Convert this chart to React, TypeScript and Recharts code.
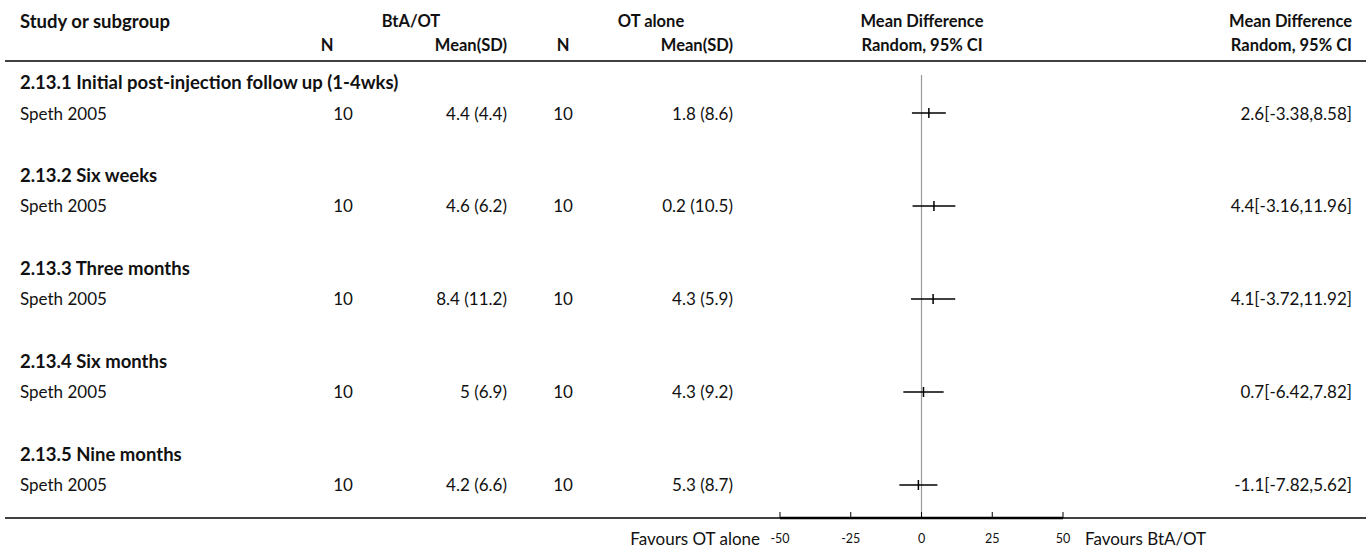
import { ComposedChart, Scatter, ErrorBar, XAxis, YAxis, ReferenceLine } from 'recharts';

const subgroups = [
  '2.13.1 Initial post-injection follow up (1-4wks)',
  '2.13.2 Six weeks',
  '2.13.3 Three months',
  '2.13.4 Six months',
  '2.13.5 Nine months',
];
const studyNames = ['Speth 2005', 'Speth 2005', 'Speth 2005', 'Speth 2005', 'Speth 2005'];
const btaN = [10, 10, 10, 10, 10];
const btaMean = [4.4, 4.6, 8.4, 5, 4.2];
const btaSd = [4.4, 6.2, 11.2, 6.9, 6.6];
const otN = [10, 10, 10, 10, 10];
const otMean = [1.8, 0.2, 4.3, 4.3, 5.3];
const otSd = [8.6, 10.5, 5.9, 9.2, 8.7];
const meanDiff = [2.6, 4.4, 4.1, 0.7, -1.1];
const ciLow = [-3.38, -3.16, -3.72, -6.42, -7.82];
const ciHigh = [8.58, 11.96, 11.92, 7.82, 5.62];
const axisTicks = [-50, -25, 0, 25, 50];

const FONT = 'Lato, "Noto Sans", sans-serif';
const INK = '#111';

const studies = studyNames.map((name, i) => ({
  row: i * 3 + 1,
  md: meanDiff[i],
  err: [meanDiff[i] - ciLow[i], ciHigh[i] - meanDiff[i]],
}));

const textRows = [
  ...subgroups.map((label, i) => ({ row: i * 3, md: 0, kind: 'group', i, label })),
  ...studyNames.map((label, i) => ({ row: i * 3 + 1, md: 0, kind: 'study', i, label })),
];

const StudyMark = (props: any) => {
  const { cx, cy } = props;
  return <line x1={cx} x2={cx} y1={cy - 5} y2={cy + 5} stroke="#000" strokeWidth={1.5} />;
};

const RowText = (props: any) => {
  const { cy, payload } = props;
  const common = { y: cy, dominantBaseline: 'central' as const, fontFamily: FONT, fontSize: 17, fill: INK };
  if (payload.kind === 'group') {
    return (
      <text {...common} x={20} fontSize={18.5} fontWeight="bold">
        {payload.label}
      </text>
    );
  }
  const i = payload.i;
  return (
    <g>
      <text {...common} x={20}>{payload.label}</text>
      <text {...common} x={343} textAnchor="middle">{btaN[i]}</text>
      <text {...common} x={507} textAnchor="end">{`${btaMean[i]} (${btaSd[i]})`}</text>
      <text {...common} x={563} textAnchor="middle">{otN[i]}</text>
      <text {...common} x={733} textAnchor="end">{`${otMean[i]} (${otSd[i]})`}</text>
      <text {...common} x={1352} textAnchor="end">{`${meanDiff[i]}[${ciLow[i]},${ciHigh[i]}]`}</text>
    </g>
  );
};

const AxisTick = (props: any) => {
  const { x, y, payload } = props;
  return (
    <g>
      <line x1={x} x2={x} y1={y - 6} y2={y} stroke="#000" strokeWidth={1} />
      <text x={x} y={y + 20} textAnchor="middle" dominantBaseline="central" fontFamily={FONT} fontSize={12.5} fill={INK}>
        {payload.value}
      </text>
    </g>
  );
};

export default function App() {
  const head = { fontFamily: FONT, fontSize: 16.5, fontWeight: 'bold' as const, fill: INK, dominantBaseline: 'central' as const };
  return (
    <div style={{ position: 'absolute', left: 0, top: 0, width: 1370, height: 549, background: '#fff' }}>
      <ComposedChart width={1370} height={549} margin={{ top: 75, right: 307, bottom: 6, left: 780 }}>
        <XAxis
          type="number"
          dataKey="md"
          domain={[-50, 50]}
          ticks={axisTicks}
          height={25}
          tickLine={false}
          tickSize={0}
          tickMargin={0}
          axisLine={{ stroke: '#000', strokeWidth: 2.5 }}
          tick={<AxisTick />}
        />
        <YAxis type="number" dataKey="row" domain={[-0.226, 14.065]} reversed hide />
        <ReferenceLine x={0} stroke="#999" strokeWidth={1.2} />
        <Scatter data={textRows} shape={<RowText />} isAnimationActive={false} />
        <Scatter data={studies} shape={<StudyMark />} isAnimationActive={false}>
          <ErrorBar dataKey="err" direction="x" width={0} stroke="#000" strokeWidth={1.5} />
        </Scatter>
      </ComposedChart>
      <svg width={1370} height={549} style={{ position: 'absolute', left: 0, top: 0, pointerEvents: 'none' }}>
        <text {...head} fontSize={18.5} x={20} y={21}>Study or subgroup</text>
        <text {...head} x={411} y={21} textAnchor="middle">BtA/OT</text>
        <text {...head} x={651} y={21} textAnchor="middle">OT alone</text>
        <text {...head} x={922} y={21} textAnchor="middle">Mean Difference</text>
        <text {...head} x={1352} y={21} textAnchor="end">Mean Difference</text>
        <text {...head} x={327} y={45} textAnchor="middle">N</text>
        <text {...head} x={507} y={45} textAnchor="end">Mean(SD)</text>
        <text {...head} x={563} y={45} textAnchor="middle">N</text>
        <text {...head} x={733} y={45} textAnchor="end">Mean(SD)</text>
        <text {...head} x={922} y={45} textAnchor="middle">Random, 95% CI</text>
        <text {...head} x={1352} y={45} textAnchor="end">Random, 95% CI</text>
        <line x1={5} x2={1366} y1={61} y2={61} stroke="#000" strokeWidth={1.5} />
        <line x1={5} x2={1366} y1={518} y2={518} stroke="#000" strokeWidth={1.5} />
        <text x={760} y={538} textAnchor="end" dominantBaseline="central" fontFamily={FONT} fontSize={17} fill={INK}>
          Favours OT alone
        </text>
        <text x={1085} y={538} dominantBaseline="central" fontFamily={FONT} fontSize={17} fill={INK}>
          Favours BtA/OT
        </text>
      </svg>
    </div>
  );
}
